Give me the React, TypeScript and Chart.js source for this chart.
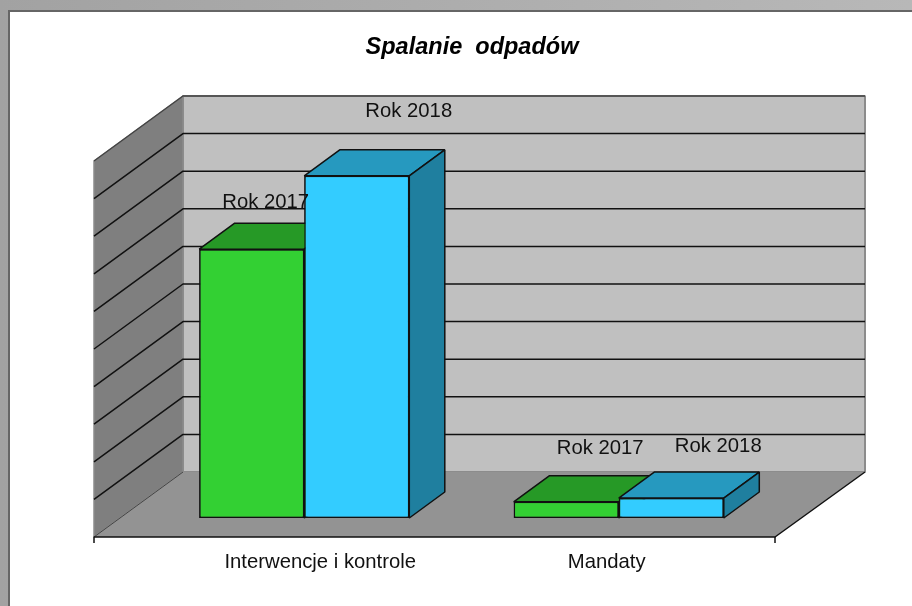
import React, { useEffect, useRef } from "react";
import { Chart, registerables } from "chart.js";

Chart.register(...registerables);

const categories = ["Interwencje i kontrole", "Mandaty"];
const seriesNames = ["Rok 2017", "Rok 2018"];
const values2017 = [71.5, 4.3];
const values2018 = [91, 5.3];
const chartTitle = "Spalanie  odpadów";

const FONT = '"Liberation Sans", Arial, sans-serif';
const TEXT = "#111111";
const LINE = "#111111";
// layout of the pseudo-3D box, relative to the bar plane
const wall = { frontX: 94, backX: 183, rightFront: 775, rightBack: 865, frontDy: 19, backDy: -46 };
const barDepth = { dx: 35.5, dy: -26 };
const faces = [
  { front: "#33D033", top: "#269926", side: "#1F7F1F" },
  { front: "#33CCFF", top: "#2699BF", side: "#1F7F9F" },
];
const valueLabelOffsets = [
  [[14, -47], [34, -53]],
  [[52, -64], [47, -52]],
];
const categoryLabelOffsets = [16, -12];

function poly(ctx: CanvasRenderingContext2D, pts: number[][], fill: string | null, stroke: string | null, lw = 1.5) {
  ctx.beginPath();
  pts.forEach(([x, y], i) => (i ? ctx.lineTo(x, y) : ctx.moveTo(x, y)));
  if (fill) {
    ctx.closePath();
    ctx.fillStyle = fill;
    ctx.fill();
  }
  if (stroke) {
    ctx.strokeStyle = stroke;
    ctx.lineWidth = lw;
    ctx.stroke();
  }
}

const box3d = {
  id: "box3d",
  beforeDatasetsDraw(chart: any) {
    const { ctx, scales } = chart;
    const y = scales.y;
    const zero = y.getPixelForValue(0);
    const top = y.getPixelForValue(100);
    const { frontX, backX, rightFront, rightBack, frontDy, backDy } = wall;
    ctx.save();
    ctx.lineJoin = "bevel";
    // back wall
    poly(ctx, [[backX, top + backDy], [rightBack, top + backDy], [rightBack, zero + backDy], [backX, zero + backDy]], "#C0C0C0", "#8C8C8C", 2);
    // left wall
    poly(ctx, [[frontX, top + frontDy], [backX, top + backDy], [backX, zero + backDy], [frontX, zero + frontDy]], "#7F7F7F", "#8C8C8C", 1.5);
    // floor
    poly(ctx, [[frontX, zero + frontDy], [rightFront, zero + frontDy], [rightBack, zero + backDy], [backX, zero + backDy]], "#939393", null);
    // gridlines
    y.ticks.forEach((t: any) => {
      if (t.value === 0 || t.value === 100) return;
      const p = y.getPixelForValue(t.value);
      poly(ctx, [[frontX, p + frontDy], [backX, p + backDy], [rightBack, p + backDy]], null, LINE, 1.5);
    });
    poly(ctx, [[frontX, top + frontDy], [backX, top + backDy], [rightBack, top + backDy]], null, "#444444", 1.5);
    poly(ctx, [[frontX, zero + frontDy], [backX, zero + backDy]], null, "#444444", 1);
    // base axis with end ticks
    poly(ctx, [[frontX, zero + frontDy + 6], [frontX, zero + frontDy], [rightFront, zero + frontDy], [rightBack, zero + backDy]], null, LINE, 1.5);
    poly(ctx, [[rightFront, zero + frontDy], [rightFront, zero + frontDy + 6]], null, LINE, 1.5);
    ctx.restore();
  },
  afterDatasetsDraw(chart: any) {
    const { ctx, scales } = chart;
    const { dx, dy } = barDepth;
    ctx.save();
    ctx.lineJoin = "bevel";
    // paint-order: left series first so the next series hides its depth
    chart.data.datasets.forEach((_: any, di: number) => {
      const meta = chart.getDatasetMeta(di);
      meta.data.forEach((bar: any) => {
        const { x, y, base, width } = bar.getProps(["x", "y", "base", "width"], true);
        const l = x - width / 2;
        const r = x + width / 2;
        poly(ctx, [[l, y], [l + dx, y + dy], [r + dx, y + dy], [r, y]], faces[di].top, LINE);
        poly(ctx, [[r, y], [r + dx, y + dy], [r + dx, base + dy], [r, base]], faces[di].side, LINE);
        bar.draw(ctx);
      });
    });
    // text
    ctx.fillStyle = TEXT;
    ctx.font = `20.3px ${FONT}`;
    ctx.textAlign = "center";
    ctx.textBaseline = "middle";
    chart.data.datasets.forEach((ds: any, di: number) => {
      chart.getDatasetMeta(di).data.forEach((bar: any, i: number) => {
        const [ox, oy] = valueLabelOffsets[di][i];
        ctx.fillText(ds.label, bar.x + ox, bar.y + oy);
      });
    });
    chart.data.labels.forEach((lab: string, i: number) => {
      ctx.fillText(lab, scales.x.getPixelForValue(i) + categoryLabelOffsets[i], scales.y.bottom + 44);
    });
    ctx.restore();
  },
};

export default function App() {
  const ref = useRef<HTMLCanvasElement>(null);
  useEffect(() => {
    const chart = new Chart(ref.current as HTMLCanvasElement, {
      type: "bar",
      data: {
        labels: categories,
        datasets: [
          { label: seriesNames[0], data: values2017, backgroundColor: faces[0].front, borderColor: LINE, borderWidth: 1.5, borderSkipped: false },
          { label: seriesNames[1], data: values2018, backgroundColor: faces[1].front, borderColor: LINE, borderWidth: 1.5, borderSkipped: false },
        ],
      },
      options: {
        responsive: false,
        animation: false,
        layout: { padding: { left: 147, right: 115, top: 0, bottom: 0 } },
        datasets: { bar: { categoryPercentage: 0.668, barPercentage: 1 } },
        plugins: {
          legend: { display: false },
          tooltip: { enabled: false },
          title: {
            display: true,
            text: chartTitle,
            color: "#000000",
            font: { family: FONT, size: 23.5, weight: "bold", style: "italic", lineHeight: 1.2 },
            padding: { top: 33, bottom: 80.8 },
          },
        },
        scales: {
          x: {
            grid: { display: false },
            border: { display: false },
            ticks: { display: false },
            afterFit: (s: any) => { s.height = 88; },
          },
          y: {
            position: "right",
            min: 0,
            max: 100,
            grid: { display: false },
            border: { display: false },
            ticks: { display: false, stepSize: 10 },
            afterFit: (s: any) => { s.width = 21; },
          },
        },
      } as any,
      plugins: [box3d],
    });
    return () => chart.destroy();
  }, []);

  return (
    <div style={{ position: "fixed", left: 0, top: 0, width: 912, height: 606, overflow: "hidden", background: "linear-gradient(90deg,#a2a2a2,#b8b8b8)" }}>
      <div style={{ position: "absolute", left: 8, top: 10, width: 904, height: 596, background: "#fff", borderLeft: "2px solid #666", borderTop: "2px solid #666", boxSizing: "border-box" }} />
      <canvas ref={ref} width={912} height={606} style={{ position: "absolute", left: 0, top: 0, display: "block" }} />
    </div>
  );
}
